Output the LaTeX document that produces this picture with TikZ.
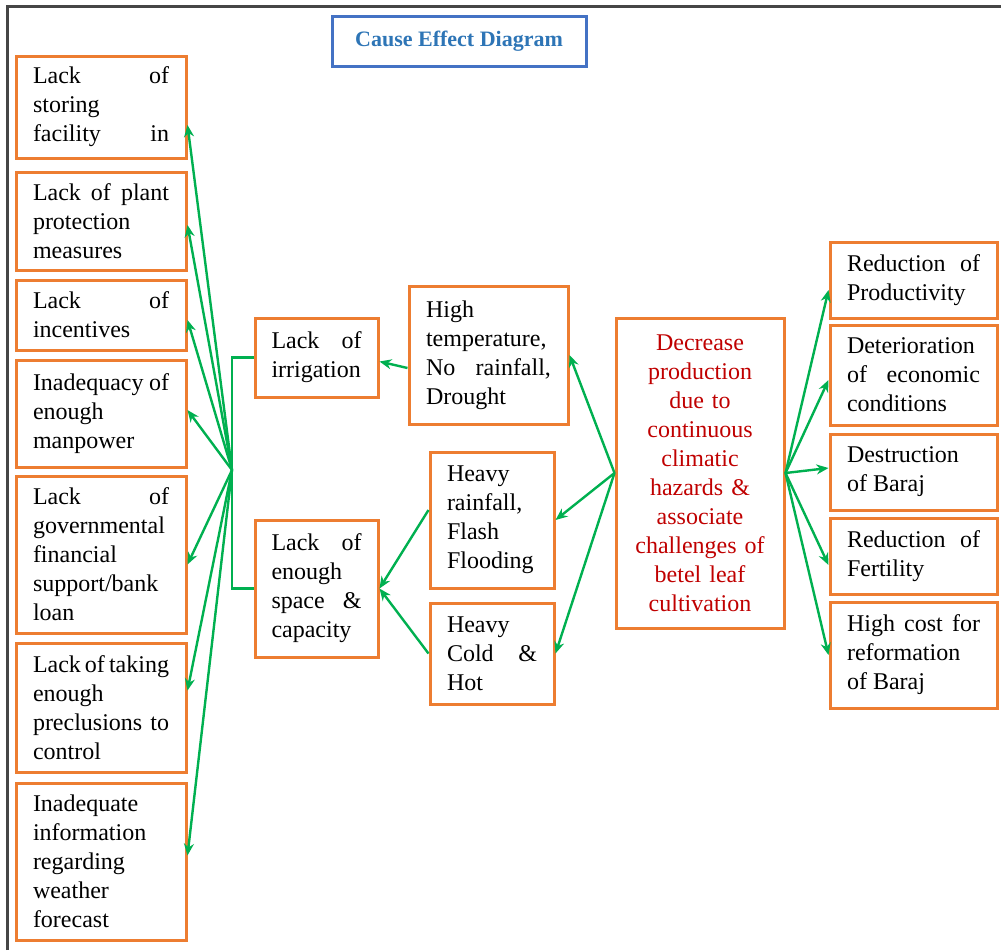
\documentclass[tikz,border=0pt]{standalone}
\usepackage{fontspec}
\setmainfont{Liberation Serif}
\usetikzlibrary{arrows.meta, positioning}
\definecolor{boxorange}{RGB}{237,125,49}
\definecolor{linkgreen}{RGB}{0,176,80}
\definecolor{titleblue}{RGB}{68,114,196}
\definecolor{titletext}{RGB}{46,117,182}
\definecolor{effectred}{RGB}{192,0,0}
\definecolor{framegray}{RGB}{70,70,70}

\begin{document}
\begin{tikzpicture}[x=0.5pt, y=-0.5pt,
  cbox/.style={draw=boxorange, line width=1.5pt, fill=white, align=justify,
    inner xsep=8.5pt, inner ysep=2pt, font=\fontsize{12}{14.5}\selectfont},
  link/.style={draw=linkgreen, line width=1.2pt},
  arr/.style={link, -{Stealth[length=6pt, width=5pt]}}]
  \useasboundingbox (0,0) rectangle (1001,950);

  % Page frame
  \draw[framegray, line width=1.5pt] (7,950) -- (7,6) -- (1001,6);

  % Title
  \node[draw=titleblue, line width=1.5pt, text=titletext, minimum width=127pt, minimum height=25pt,
    font=\fontsize{11}{13}\selectfont\bfseries] (title) at (459,41) {Cause Effect Diagram};

  % Left column - causes
  \node[cbox, text width=68pt, minimum height=51pt] (c1) at (101,107) {Lack\hfill of\\ storing\\ facility\hfill in};
  \node[cbox, text width=68pt, minimum height=49pt] (c2) at (101,221) {Lack of plant\linebreak protection\\ measures};
  \node[cbox, text width=68pt, minimum height=35pt] (c3) at (101,315) {Lack\hfill of\\ incentives};
  \node[cbox, text width=68pt, minimum height=53.5pt] (c4) at (101,413.5) {Inadequacy of\linebreak enough\\ manpower};
  \node[cbox, text width=68pt, minimum height=78.5pt] (c5) at (101,554.5) {Lack\hfill of\\ governmental\\ financial\\ support/bank\\ loan};
  \node[cbox, text width=68pt, minimum height=64.5pt] (c6) at (101,707.5) {Lack of taking\linebreak enough\\ preclusions to\linebreak control};
  \node[cbox, text width=68pt, minimum height=78.5pt] (c7) at (101,861.5) {Inadequate\\ information\\ regarding\\ weather\\ forecast};

  % Middle - grouped causes
  \node[cbox, text width=45pt, inner xsep=8.25pt, minimum height=39.5pt] (irr) at (316.5,357.5) {Lack\hfill of\\ irrigation};
  \node[cbox, text width=45pt, inner xsep=8.25pt, minimum height=68.5pt] (space) at (316.5,588.5) {Lack of\linebreak enough\\ space \&\linebreak capacity};
  \node[cbox, text width=62.5pt, minimum height=69pt] (htemp) at (488.5,355) {High\\ temperature,\\ No rainfall,\linebreak Drought};
  \node[cbox, text width=45pt, minimum height=68pt] (hrain) at (492,520) {Heavy\\ rainfall,\\ Flash\\ Flooding};
  \node[cbox, text width=45pt, minimum height=50.5pt] (hcold) at (492,653.5) {Heavy\\ Cold \&\linebreak Hot};

  % Central problem
  \node[cbox, text width=67pt, minimum height=155pt, align=center, text=effectred] (ctr) at (700,473)
    {Decrease\\ production\\ due to\\ continuous\\ climatic\\ hazards \&\\ associate\\ challenges of\\ betel leaf\\ cultivation};

  % Right column - effects
  \node[cbox, text width=66.5pt, minimum height=38pt] (r1) at (913.5,280) {Reduction of\linebreak Productivity};
  \node[cbox, text width=66.5pt, minimum height=50pt] (r2) at (913.5,375) {Deterioration\\ of economic\linebreak conditions};
  \node[cbox, text width=66.5pt, minimum height=38pt] (r3) at (913.5,472) {Destruction\\ of Baraj};
  \node[cbox, text width=66.5pt, minimum height=38pt] (r4) at (913.5,556) {Reduction of\linebreak Fertility};
  \node[cbox, text width=66.5pt, minimum height=53pt] (r5) at (913.5,655) {High cost for\linebreak reformation\\ of Baraj};

  % Connectors
  \coordinate (hub) at (232,470);
  \draw[link] (irr.west) -| (hub) |- (space.west);
  \foreach \i/\s in {1/-9, 2/-2, 3/-2.5, 4/1.75, 5/-5, 6/8.5, 7/3}
    \draw[arr] (hub) -- ([yshift=\s pt]c\i.east);
  \draw[arr] ([yshift=-6.5pt]htemp.west) -- ([yshift=-2pt]irr.east);
  \draw[arr] ([yshift=5pt]hrain.west) -- (space.east);
  \draw[arr] (hcold.west) -- (space.east);
  \draw[arr] (ctr.west) -- (htemp.east);
  \draw[arr] (ctr.west) -- (hrain.east);
  \draw[arr] (ctr.west) -- (hcold.east);
  \foreach \i/\s in {1/-5, 2/-2.5, 3/2, 4/-4.5, 5/0}
    \draw[arr] (ctr.east) -- ([yshift=\s pt]r\i.west);
\end{tikzpicture}
\end{document}
